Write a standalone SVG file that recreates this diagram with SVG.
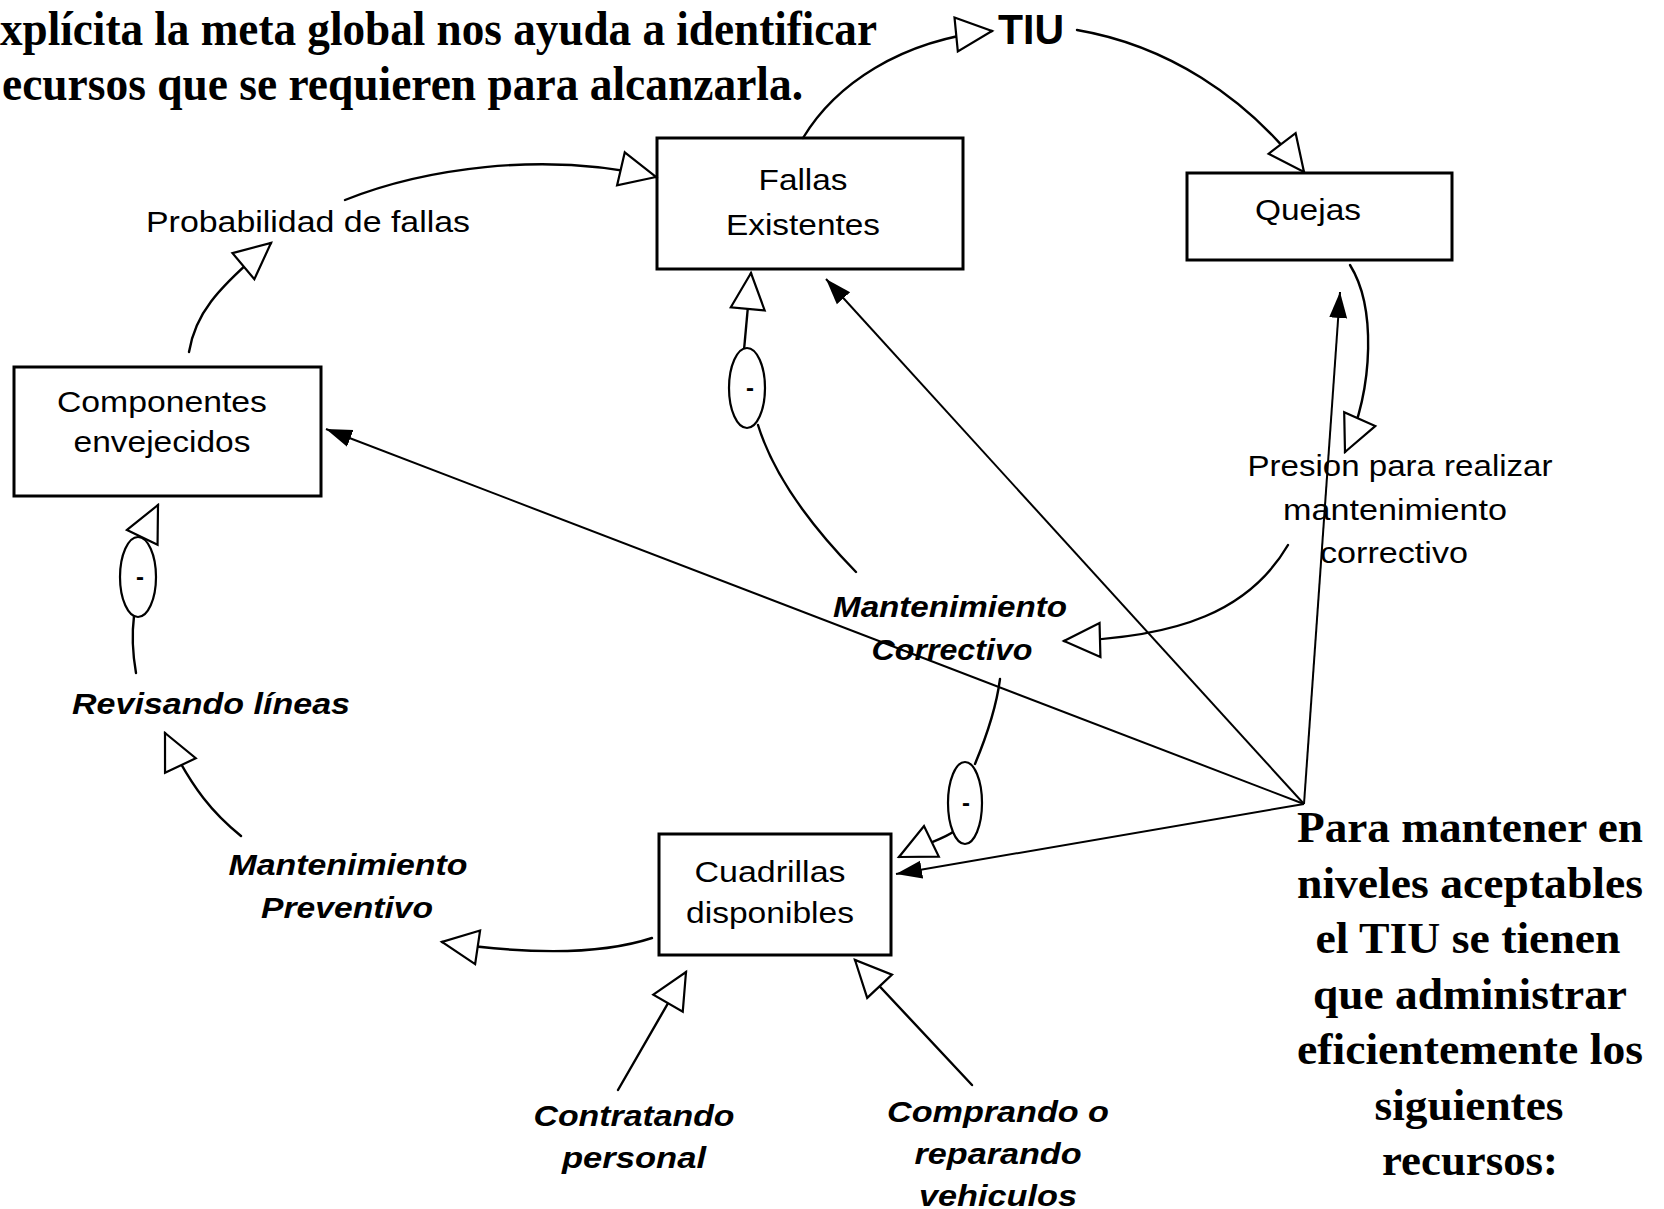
<svg xmlns="http://www.w3.org/2000/svg" width="1664" height="1209" viewBox="0 0 1664 1209">
<style>
.box{fill:#fff;stroke:#000;stroke-width:3}
.lbl{font-family:"Liberation Sans",Arial,sans-serif;font-size:30px;text-anchor:middle;fill:#000}
.bi{font-weight:bold;font-style:italic}
.title{font-family:"Liberation Serif","Times New Roman",serif;font-weight:bold;font-size:48px;fill:#000}
.note{font-family:"Liberation Serif","Times New Roman",serif;font-weight:bold;font-size:45px;text-anchor:middle;fill:#000}
.tiu{font-family:"Liberation Sans",Arial,sans-serif;font-weight:bold;font-size:42px;fill:#000}
.curve{fill:none;stroke:#000;stroke-width:2.4;stroke-linecap:round;stroke-linejoin:round;marker-end:url(#tri)}
.plain{fill:none;stroke:#000;stroke-width:2.4;stroke-linecap:round}
.solid{fill:none;stroke:#000;stroke-width:2;marker-end:url(#blk)}
.sign{fill:#fff;stroke:#000;stroke-width:2.2}
.minus{font-family:"Liberation Sans",Arial,sans-serif;font-size:24px;font-weight:bold;text-anchor:middle;fill:#000}
</style>
<defs>
<marker id="tri" markerUnits="userSpaceOnUse" viewBox="-3 -20 42 40" markerWidth="42" markerHeight="40" refX="36" refY="0" orient="auto">
<path d="M0,-17 L36,0 L0,17 Z" fill="#fff" stroke="#000" stroke-width="2.2"/>
</marker>
<marker id="blk" markerUnits="userSpaceOnUse" viewBox="0 -10 28 20" markerWidth="28" markerHeight="20" refX="26" refY="0" orient="auto">
<path d="M0,-9 L26,0 L0,9 Z" fill="#000"/>
</marker>
</defs>
<rect width="1664" height="1209" fill="#fff"/>

<g id="title">
<text class="title" x="0" y="45" textLength="877" lengthAdjust="spacingAndGlyphs">xplícita la meta global nos ayuda a identificar</text>
<text class="title" x="2" y="100" textLength="801" lengthAdjust="spacingAndGlyphs">ecursos que se requieren para alcanzarla.</text>
</g>

<g id="node-tiu"><text class="tiu" x="998" y="44" textLength="66" lengthAdjust="spacingAndGlyphs">TIU</text></g>

<g id="node-fallas">
<rect class="box" x="657" y="138" width="306" height="131"/>
<text class="lbl" x="803" y="190" textLength="89" lengthAdjust="spacingAndGlyphs">Fallas</text>
<text class="lbl" x="803" y="235" textLength="154" lengthAdjust="spacingAndGlyphs">Existentes</text>
</g>

<g id="node-quejas">
<rect class="box" x="1187" y="173" width="265" height="87"/>
<text class="lbl" x="1308" y="220" textLength="106" lengthAdjust="spacingAndGlyphs">Quejas</text>
</g>

<g id="node-componentes">
<rect class="box" x="14" y="367" width="307" height="129"/>
<text class="lbl" x="162" y="412" textLength="210" lengthAdjust="spacingAndGlyphs">Componentes</text>
<text class="lbl" x="162" y="452" textLength="177" lengthAdjust="spacingAndGlyphs">envejecidos</text>
</g>

<g id="node-cuadrillas">
<rect class="box" x="659" y="834" width="232" height="121"/>
<text class="lbl" x="770" y="882" textLength="151" lengthAdjust="spacingAndGlyphs">Cuadrillas</text>
<text class="lbl" x="770" y="923" textLength="168" lengthAdjust="spacingAndGlyphs">disponibles</text>
</g>

<g id="node-probabilidad">
<text class="lbl" x="308" y="232" textLength="324" lengthAdjust="spacingAndGlyphs">Probabilidad de fallas</text>
</g>

<g id="node-presion">
<text class="lbl" x="1400" y="476" textLength="305" lengthAdjust="spacingAndGlyphs">Presion para realizar</text>
<text class="lbl" x="1395" y="520" textLength="224" lengthAdjust="spacingAndGlyphs">mantenimiento</text>
<text class="lbl" x="1394" y="563" textLength="148" lengthAdjust="spacingAndGlyphs">correctivo</text>
</g>

<g id="node-mant-correctivo">
<text class="lbl bi" x="950" y="617" textLength="234" lengthAdjust="spacingAndGlyphs">Mantenimiento</text>
<text class="lbl bi" x="952" y="660" textLength="161" lengthAdjust="spacingAndGlyphs">Correctivo</text>
</g>

<g id="node-revisando">
<text class="lbl bi" x="211" y="714" textLength="278" lengthAdjust="spacingAndGlyphs">Revisando líneas</text>
</g>

<g id="node-mant-preventivo">
<text class="lbl bi" x="348" y="875" textLength="239" lengthAdjust="spacingAndGlyphs">Mantenimiento</text>
<text class="lbl bi" x="347" y="918" textLength="172" lengthAdjust="spacingAndGlyphs">Preventivo</text>
</g>

<g id="node-contratando">
<text class="lbl bi" x="634" y="1126" textLength="201" lengthAdjust="spacingAndGlyphs">Contratando</text>
<text class="lbl bi" x="634" y="1168" textLength="144" lengthAdjust="spacingAndGlyphs">personal</text>
</g>

<g id="node-comprando">
<text class="lbl bi" x="998" y="1122" textLength="222" lengthAdjust="spacingAndGlyphs">Comprando o</text>
<text class="lbl bi" x="998" y="1164" textLength="167" lengthAdjust="spacingAndGlyphs">reparando</text>
<text class="lbl bi" x="998" y="1206" textLength="158" lengthAdjust="spacingAndGlyphs">vehiculos</text>
</g>

<g id="node-nota">
<text class="note" x="1470" y="842" textLength="346" lengthAdjust="spacingAndGlyphs">Para mantener en</text>
<text class="note" x="1470" y="898" textLength="346" lengthAdjust="spacingAndGlyphs">niveles aceptables</text>
<text class="note" x="1468" y="953" textLength="305" lengthAdjust="spacingAndGlyphs">el TIU se tienen</text>
<text class="note" x="1470" y="1009" textLength="314" lengthAdjust="spacingAndGlyphs">que administrar</text>
<text class="note" x="1470" y="1064" textLength="346" lengthAdjust="spacingAndGlyphs">eficientemente los</text>
<text class="note" x="1469" y="1120" textLength="189" lengthAdjust="spacingAndGlyphs">siguientes</text>
<text class="note" x="1470" y="1175" textLength="176" lengthAdjust="spacingAndGlyphs">recursos:</text>
</g>

<g id="connectors">
<path class="curve" d="M803,138 C835,85 900,40 992,31"/>
<path class="curve" d="M1077,30 C1165,45 1245,95 1304,172"/>
<path class="curve" d="M1350,265 C1375,305 1375,385 1345,452"/>
<path class="curve" d="M1288,545 C1250,610 1180,638 1064,641"/>
<path class="plain" d="M856,572 C815,530 775,480 758,425"/>
<path class="curve" d="M744,350 L751,273"/>
<ellipse class="sign" cx="747" cy="388" rx="18" ry="40"/>
<text class="minus" x="750" y="396">-</text>
<path class="plain" d="M1000,679 C996,710 985,740 975,764"/>
<path class="curve" d="M953,832 C945,838 930,842 899,857"/>
<ellipse class="sign" cx="965" cy="803" rx="17" ry="41"/>
<text class="minus" x="966" y="811">-</text>
<path class="curve" d="M189,352 C195,315 215,290 271,243"/>
<path class="curve" d="M345,200 C420,170 540,150 656,177"/>
<path class="plain" d="M136,673 C132,650 132,632 134,616"/>
<path class="curve" d="M141,540 L158,505"/>
<ellipse class="sign" cx="138" cy="577" rx="18" ry="40"/>
<text class="minus" x="140" y="585">-</text>
<path class="curve" d="M241,836 C215,815 192,790 165,733"/>
<path class="curve" d="M652,938 C600,955 530,955 442,942"/>
<path class="curve" d="M618,1090 L686,972"/>
<path class="curve" d="M972,1085 L855,960"/>
<path class="solid" d="M1304,804 L1340,292"/>
<path class="solid" d="M1304,804 L826,279"/>
<path class="solid" d="M1304,804 L326,429"/>
<path class="solid" d="M1304,804 L896,874"/>
</g>
</svg>
